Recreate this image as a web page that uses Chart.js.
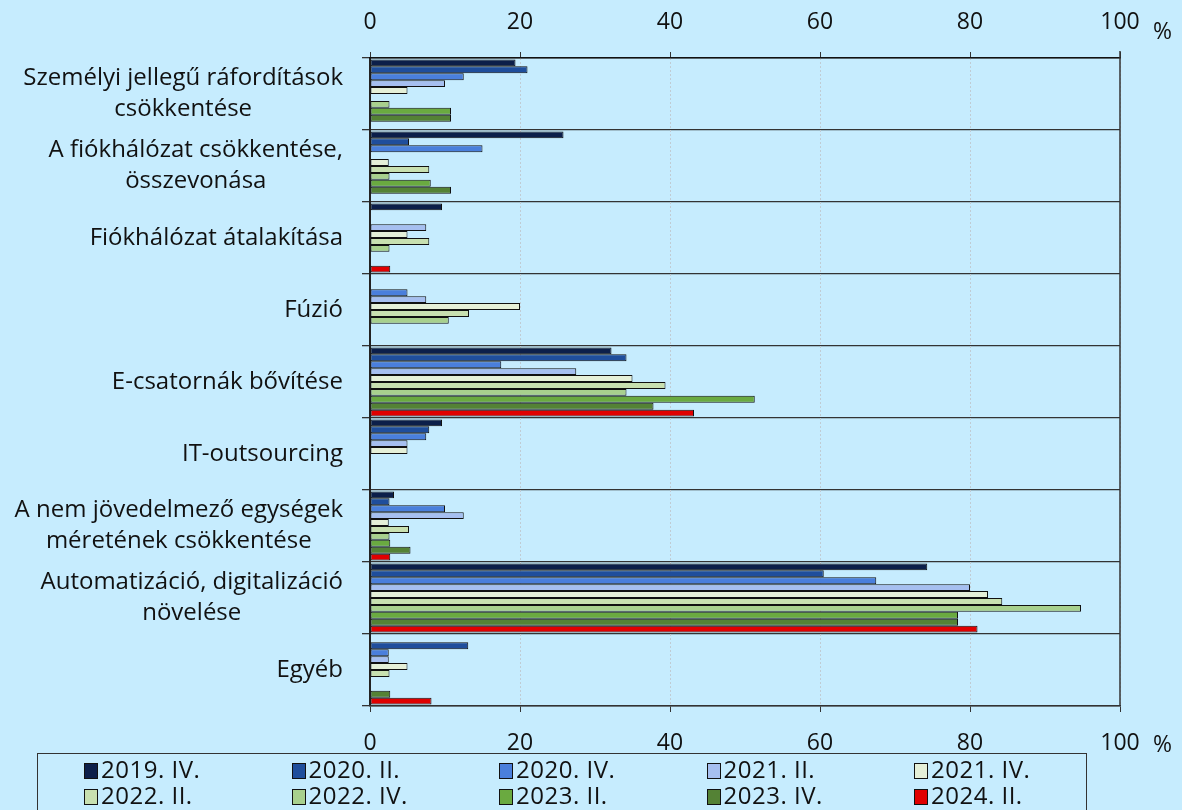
<!DOCTYPE html>
<html>
<head>
<meta charset="utf-8">
<script src="https://cdn.jsdelivr.net/npm/chart.js@4"></script>
<style>
  html, body { margin: 0; padding: 0; background: #c6ecfe; }
  #wrap { position: relative; width: 1182px; height: 810px; overflow: hidden; }
  #legend {
    position: absolute; left: 37px; top: 753px; width: 1050px; height: 62px;
    border: 1px solid #333; box-sizing: border-box;
    font-family: "Open Sans", sans-serif; font-size: 24px; letter-spacing: 0.5px; color: #111;
  }
  .item { position: absolute; height: 26px; line-height: 26px; white-space: nowrap; }
  .sw { display: inline-block; width: 14px; height: 16px; border: 1px solid #111;
        box-sizing: border-box; vertical-align: -1px; margin-right: 3px; }
</style>
</head>
<body>
<div id="wrap">
  <canvas id="chart" width="1182" height="810"></canvas>
  <div id="legend"></div>
</div>
<script>
// categories, each an array of lines
var categories = [
    ['Személyi jellegű ráfordítások', 'csökkentése'],
    ['A fiókhálózat csökkentése,', 'összevonása'],
    ['Fiókhálózat átalakítása'],
    ['Fúzió'],
    ['E-csatornák bővítése'],
    ['IT-outsourcing'],
    ['A nem jövedelmező egységek', 'méretének csökkentése'],
    ['Automatizáció, digitalizáció', 'növelése'],
    ['Egyéb']
];

var seriesNames = ['2019. IV.', '2020. II.', '2020. IV.', '2021. II.', '2021. IV.',
                   '2022. II.', '2022. IV.', '2023. II.', '2023. IV.', '2024. II.'];

var seriesColors = ['#0c1f4a', '#1f4e9c', '#4a7fdc', '#a6bff0', '#e5f0d8',
                    '#c8e0b0', '#a8d08d', '#6aaa40', '#548235', '#e00000'];

var s2019IV = [19.4, 25.8, 9.6, null, 32.2, 9.6, 3.2, 74.3, null];
var s2020II = [21.0, 5.2, null, null, 34.2, 7.9, 2.6, 60.5, 13.1];
var s2020IV = [12.5, 15.0, null, 5.0, 17.5, 7.5, 10.0, 67.5, 2.5];
var s2021II = [10.0, null, 7.5, 7.5, 27.5, 5.0, 12.5, 80.0, 2.5];
var s2021IV = [5.0, 2.5, 5.0, 20.0, 35.0, 5.0, 2.5, 82.4, 5.0];
var s2022II = [null, 7.9, 7.9, 13.2, 39.4, null, 5.2, 84.3, 2.6];
var s2022IV = [2.6, 2.6, 2.6, 10.5, 34.2, null, 2.6, 94.8, null];
var s2023II = [10.8, 8.1, null, null, 51.3, null, 2.7, 78.4, null];
var s2023IV = [10.8, 10.8, null, null, 37.8, null, 5.4, 78.4, 2.7];
var s2024II = [null, null, 2.7, null, 43.2, null, 2.7, 81.0, 8.2];

var seriesValues = [s2019IV, s2020II, s2020IV, s2021II, s2021IV,
                    s2022II, s2022IV, s2023II, s2023IV, s2024II];

var xTicks = [0, 20, 40, 60, 80, 100];

var FONT = '"Open Sans", sans-serif';

var datasets = [];
for (var i = 0; i < seriesNames.length; i++) {
    datasets.push({
        label: seriesNames[i],
        data: seriesValues[i],
        backgroundColor: seriesColors[i],
        borderColor: '#111',
        borderWidth: 1,
        borderSkipped: false,
        categoryPercentage: 0.96,
        barPercentage: 1.0
    });
}

// category labels: block right aligned, lines centered inside block
var catLabels = {
    id: 'catLabels',
    afterDraw: function (chart) {
        var ctx = chart.ctx;
        var y = chart.scales.y;
        ctx.save();
        ctx.font = '24px ' + FONT;
        ctx.fillStyle = '#111';
        ctx.textAlign = 'center';
        ctx.textBaseline = 'middle';
        var right = 343, lh = 31;
        for (var i = 0; i < categories.length; i++) {
            var lines = categories[i];
            var w = 0;
            lines.forEach(function (l) { w = Math.max(w, ctx.measureText(l).width); });
            var cx = right - w / 2;
            var cy = y.getPixelForValue(i) - (lines.length - 1) * lh / 2;
            lines.forEach(function (l, k) { ctx.fillText(l, cx, cy + k * lh); });
        }
        // percent signs
        ctx.font = '23px ' + FONT;
        ctx.textAlign = 'left';
        ctx.fillText('%', 1153, 32);
        ctx.fillText('%', 1153, 745);
        // right border
        ctx.strokeStyle = '#333';
        ctx.lineWidth = 1.5;
        ctx.beginPath();
        ctx.moveTo(chart.chartArea.right, chart.chartArea.top - 7);
        ctx.lineTo(chart.chartArea.right, chart.chartArea.bottom);
        ctx.stroke();
        ctx.restore();
    }
};

var ctx = document.getElementById('chart').getContext('2d');
new Chart(ctx, {
    type: 'bar',
    data: { labels: categories.map(function (c) { return c.join(' '); }), datasets: datasets },
    options: {
        indexAxis: 'y',
        responsive: false,
        animation: false,
        layout: { padding: { left: 0, right: 62, top: 0, bottom: 56 } },
        plugins: { legend: { display: false }, tooltip: { enabled: false } },
        scales: {
            y: {
                grid: { offset: true, color: '#333', lineWidth: 1.3, tickLength: 8, tickColor: '#333' },
                border: { display: true, color: '#222', width: 2 },
                ticks: { display: false },
                afterFit: function (s) { s.width = 370; }
            },
            x: {
                position: 'bottom',
                min: 0, max: 100,
                afterBuildTicks: function (s) { s.ticks = xTicks.map(function (v) { return { value: v }; }); },
                grid: { color: '#c0ccd4', lineWidth: 1, tickLength: 6,
                        tickColor: '#333', tickBorderDash: [] },
                border: { display: true, color: '#333', width: 1.5, dash: [2, 2] },
                ticks: { font: { family: FONT, size: 23 }, color: '#111', padding: 18, maxRotation: 0 },
                afterFit: function (s) { s.height = 48; }
            },
            x2: {
                position: 'top',
                min: 0, max: 100,
                afterBuildTicks: function (s) { s.ticks = xTicks.map(function (v) { return { value: v }; }); },
                grid: { drawOnChartArea: false, tickLength: 6, tickColor: '#333', color: '#333' },
                border: { display: true, color: '#111', width: 1.5 },
                ticks: { font: { family: FONT, size: 23 }, color: '#111', padding: 16, maxRotation: 0 },
                afterFit: function (s) { s.height = 58; }
            }
        }
    },
    plugins: [catLabels]
});

// legend in two rows of five
var legend = document.getElementById('legend');
for (var j = 0; j < seriesNames.length; j++) {
    var d = document.createElement('div');
    d.className = 'item';
    d.style.left = (46 + (j % 5) * 207.5) + 'px';
    d.style.top = (j < 5 ? 2 : 28) + 'px';
    d.innerHTML = '<span class="sw" style="background:' + seriesColors[j] + '"></span>' + seriesNames[j];
    legend.appendChild(d);
}
</script>
</body>
</html>
